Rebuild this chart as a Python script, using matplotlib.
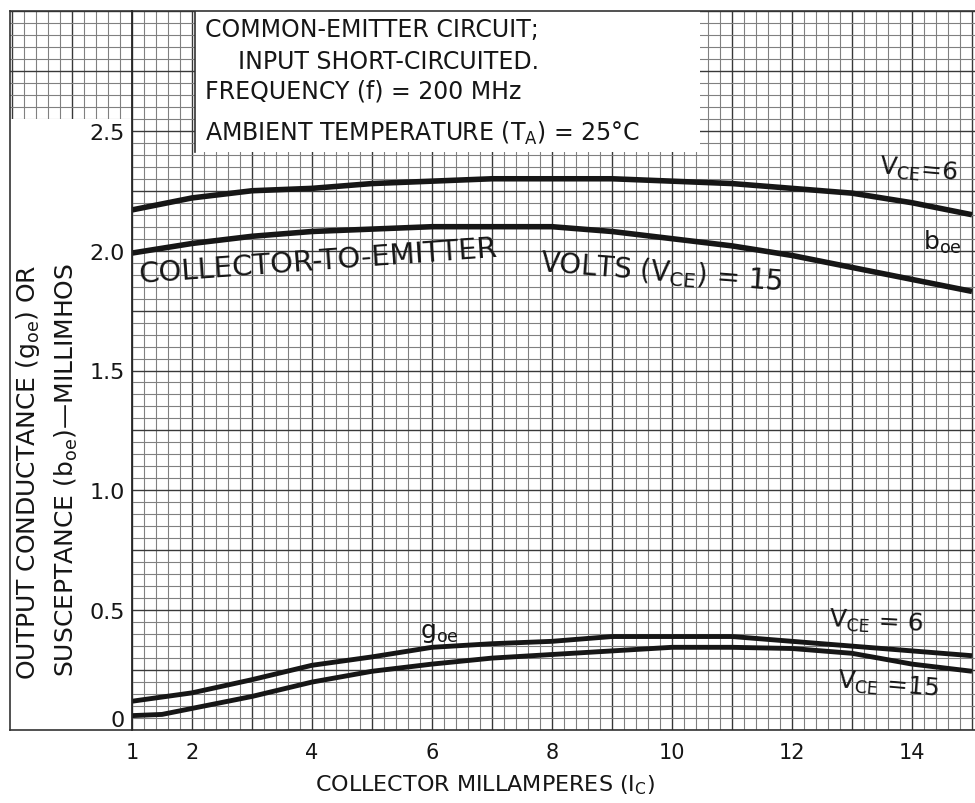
import matplotlib
matplotlib.use("Agg")
import matplotlib.pyplot as plt
from matplotlib.ticker import MultipleLocator
from matplotlib.patches import Rectangle

# collector current, mA
ic = [1, 2, 3, 4, 5, 6, 7, 8, 9, 10, 11, 12, 13, 14, 15]
ic_g15 = [1, 1.5, 2, 3, 4, 5, 6, 7, 8, 9, 10, 11, 12, 13, 14, 15]

# output susceptance b_oe (millimhos)
b_oe_6 = [2.17, 2.22, 2.25, 2.26, 2.28, 2.29, 2.30, 2.30, 2.30, 2.29, 2.28, 2.26, 2.24, 2.20, 2.15]
b_oe_15 = [1.99, 2.03, 2.06, 2.08, 2.09, 2.10, 2.10, 2.10, 2.08, 2.05, 2.02, 1.98, 1.93, 1.88, 1.83]

# output conductance g_oe (millimhos)
g_oe_6 = [0.12, 0.155, 0.21, 0.27, 0.305, 0.345, 0.36, 0.37, 0.39, 0.39, 0.39, 0.37, 0.35, 0.33, 0.31]
g_oe_15 = [0.06, 0.065, 0.09, 0.14, 0.20, 0.245, 0.275, 0.30, 0.315, 0.33, 0.345, 0.345, 0.34, 0.32, 0.275, 0.245]

x_ticks = [1, 2, 4, 6, 8, 10, 12, 14]
y_ticks = [0, 0.5, 1.0, 1.5, 2.0, 2.5]
y_tick_labels = ["0", "0.5", "1.0", "1.5", "2.0", "2.5"]

notes = [
    "COMMON-EMITTER CIRCUIT;",
    "INPUT SHORT-CIRCUITED.",
    "FREQUENCY (f) = 200 MHz",
    "AMBIENT TEMPERATURE (T$_\\mathregular{A}$) = 25°C",
]

plt.rcParams["font.family"] = ["DejaVu Sans"]
plt.rcParams["mathtext.default"] = "regular"
INK = "#161616"

W, H = 975, 804
fig = plt.figure(figsize=(W / 100, H / 100), dpi=100)

XMIN, XMAX, YMAX = 1.0, 15.05, 3.0
px_per_x = (975 - 132) / (XMAX - XMIN)

# graph paper behind everything (reaches left past the y axis)
bg_left = XMIN - (132 - 10) / px_per_x
ax_bg = fig.add_axes([10 / W, (H - 731) / H, (975 - 10) / W, 719 / H])
ax_bg.set_xlim(bg_left, XMAX)
ax_bg.set_ylim(0, YMAX)
ax_bg.xaxis.set_major_locator(MultipleLocator(1))
ax_bg.xaxis.set_minor_locator(MultipleLocator(0.2))
ax_bg.yaxis.set_major_locator(MultipleLocator(0.25))
ax_bg.yaxis.set_minor_locator(MultipleLocator(0.05))
ax_bg.set_axisbelow(True)
ax_bg.grid(which="major", color="0.22", lw=1.0)
ax_bg.grid(which="minor", color="0.5", lw=0.8)
ax_bg.tick_params(which="both", length=0, labelbottom=False, labelleft=False)
for s in ["left", "bottom", "top"]:
    ax_bg.spines[s].set_color("0.2")
    ax_bg.spines[s].set_linewidth(1.2)
ax_bg.spines["right"].set_visible(False)

# white areas: y-label strip and the notes box
ax_bg.add_patch(Rectangle((bg_left, 0), XMIN - bg_left, 2.55, fc="white", ec="none", zorder=1))
ax_bg.add_patch(Rectangle((2.05, 2.41), 8.42, YMAX - 2.41, fc="white", ec="none", zorder=1))
ax_bg.plot([2.05, 2.05], [2.41, YMAX], color="0.2", lw=1.2, zorder=2)

# main plot
ax = fig.add_axes([132 / W, (H - 731) / H, (975 - 132) / W, 719 / H])
ax.patch.set_visible(False)
ax.set_xlim(XMIN, XMAX)
ax.set_ylim(0, YMAX)
for s in ["top", "right", "bottom"]:
    ax.spines[s].set_visible(False)
ax.spines["left"].set_color("0.15")
ax.spines["left"].set_linewidth(1.3)

ax.plot(ic, b_oe_6, color=INK, lw=4.0, solid_capstyle="butt")
ax.plot(ic, b_oe_15, color=INK, lw=4.0, solid_capstyle="butt")
ax.plot(ic, g_oe_6, color=INK, lw=3.5, solid_capstyle="butt")
ax.plot(ic_g15, g_oe_15, color=INK, lw=3.5, solid_capstyle="butt")

ax.set_xticks(x_ticks)
ax.set_xticklabels([str(v) for v in x_ticks])
ax.set_yticks(y_ticks)
ax.set_yticklabels(y_tick_labels)
ax.tick_params(axis="x", length=0, pad=9, labelsize=15, labelcolor=INK)
ax.tick_params(axis="y", length=0, pad=5, labelsize=16, labelcolor=INK)
ax.get_yticklabels()[0].set_va("bottom")

ax.set_xlabel("COLLECTOR MILLAMPERES (I$_\\mathregular{C}$)", fontsize=16, color=INK, va="center")
ax.xaxis.set_label_coords(0.419, -0.075)

fig.text(28 / W, 1 - 472 / H, "OUTPUT CONDUCTANCE (g$_\\mathregular{oe}$) OR",
         rotation=90, ha="center", va="center", fontsize=18, color=INK)
fig.text(66 / W, 1 - 470 / H, "SUSCEPTANCE (b$_\\mathregular{oe}$)—MILLIMHOS",
         rotation=90, ha="center", va="center", fontsize=18, color=INK)

# notes box text
note_pos = [(205, 30), (238, 62), (205, 91), (205, 133)]
for txt, (px, py) in zip(notes, note_pos):
    fig.text(px / W, 1 - py / H, txt, ha="left", va="center", fontsize=17, color=INK)

# curve labels
ax.text(1.13, 1.87, "COLLECTOR-TO-EMITTER", rotation=4.2, rotation_mode="anchor",
        ha="left", va="baseline", fontsize=21, color=INK)
ax.text(7.8, 1.92, "VOLTS (V$_\\mathregular{CE}$) = 15", rotation=-4.6, rotation_mode="anchor",
        ha="left", va="baseline", fontsize=20, color=INK)
ax.text(14.1, 2.34, "V$_\\mathregular{CE}$=6", rotation=-5, ha="center", va="center",
        fontsize=18, color=INK)
ax.text(14.5, 2.04, "b$_\\mathregular{oe}$", ha="center", va="center", fontsize=18, color=INK)
ax.text(6.13, 0.41, "g$_\\mathregular{oe}$", ha="center", va="center", fontsize=18, color=INK)
ax.text(13.4, 0.455, "V$_\\mathregular{CE}$ = 6", rotation=-3, ha="center", va="center",
        fontsize=18, color=INK)
ax.text(13.6, 0.19, "V$_\\mathregular{CE}$ =15", rotation=-5, ha="center", va="center",
        fontsize=18, color=INK)

fig.savefig("out.png", dpi=100, facecolor="white")
